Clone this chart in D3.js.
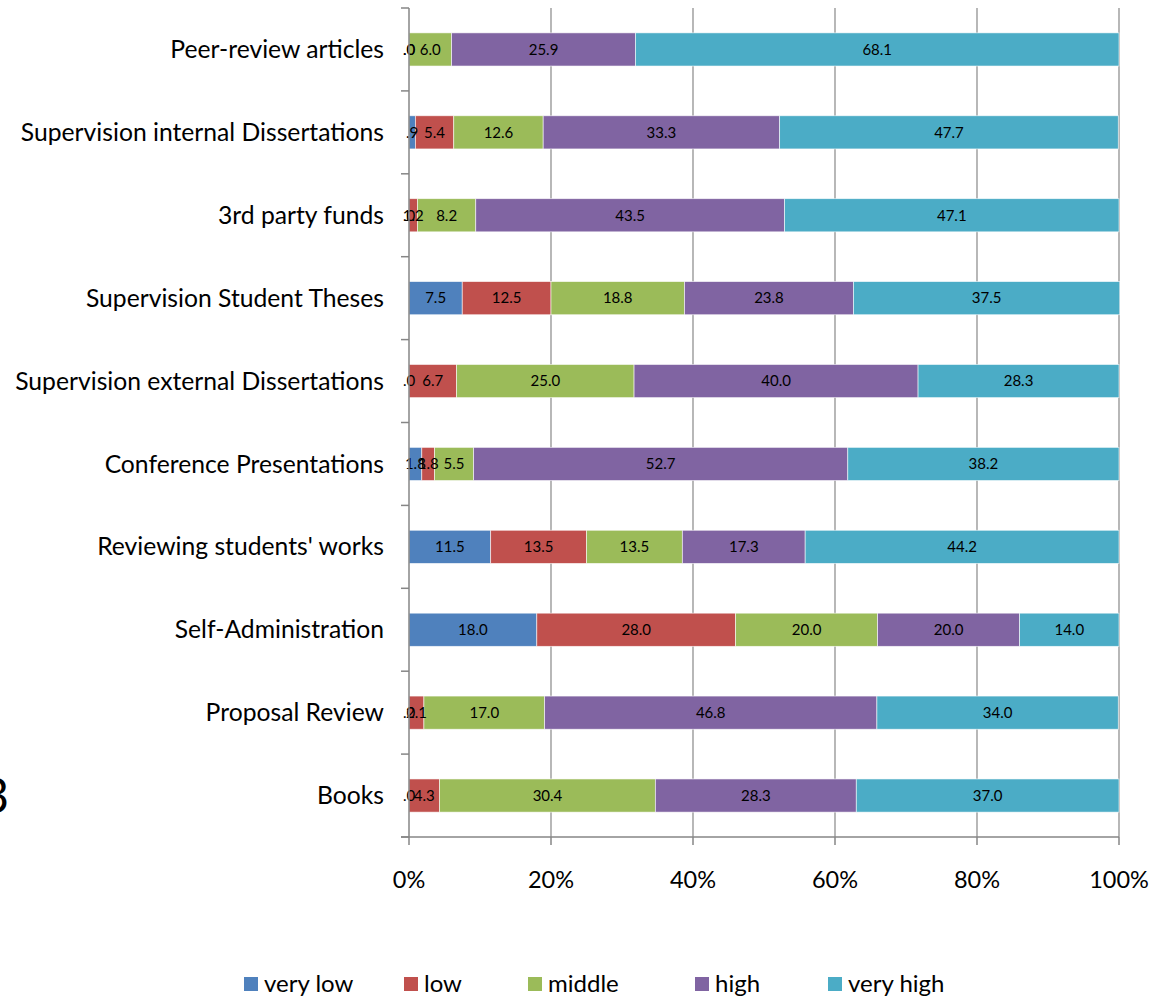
<!DOCTYPE html>
<html>
<head>
<meta charset="utf-8">
<script src="https://cdn.jsdelivr.net/npm/d3@7/dist/d3.min.js"></script>
<style>
  html, body { margin: 0; padding: 0; background: #fff; }
  svg { display: block; }
  text { font-family: Lato, "Open Sans", sans-serif; fill: #000; }
</style>
</head>
<body>
<svg id="chart" width="1153" height="998"></svg>
<script>
// Activities, listed top to bottom
const categories = [
  "Peer-review articles",
  "Supervision internal Dissertations",
  "3rd party funds",
  "Supervision Student Theses",
  "Supervision external Dissertations",
  "Conference Presentations",
  "Reviewing students' works",
  "Self-Administration",
  "Proposal Review",
  "Books"
];

// Share of answers (%) per rating, in category order
const veryLow  = [0.0, 0.9, 0.0, 7.5, 0.0, 1.8, 11.5, 18.0, 0.0, 0.0];
const low      = [0.0, 5.4, 1.2, 12.5, 6.7, 1.8, 13.5, 28.0, 2.1, 4.3];
const middle   = [6.0, 12.6, 8.2, 18.8, 25.0, 5.5, 13.5, 20.0, 17.0, 30.4];
const high     = [25.9, 33.3, 43.5, 23.8, 40.0, 52.7, 17.3, 20.0, 46.8, 28.3];
const veryHigh = [68.1, 47.7, 47.1, 37.5, 28.3, 38.2, 44.2, 14.0, 34.0, 37.0];

const seriesNames = ["very low", "low", "middle", "high", "very high"];
const seriesValues = [veryLow, low, middle, high, veryHigh];
const seriesColors = ["#4F81BD", "#C0504D", "#9BBB59", "#8064A2", "#4BACC6"];

const xTicks = [0, 20, 40, 60, 80, 100];
const xTickLabels = ["0%", "20%", "40%", "60%", "80%", "100%"];

const svg = d3.select("#chart");

const plot = { left: 409, right: 1119, top: 8, bottom: 837 };

const x = d3.scaleLinear().domain([0, 100]).range([plot.left, plot.right]);
const y = d3.scaleBand()
  .domain(categories)
  .range([plot.top, plot.bottom])
  .paddingInner(0.6)
  .paddingOuter(0.3);

const color = d3.scaleOrdinal().domain(seriesNames).range(seriesColors);

// Rows for the stack: one object per category
const rows = categories.map((c, i) => {
  const r = { category: c };
  seriesNames.forEach((s, j) => { r[s] = seriesValues[j][i]; });
  return r;
});
const stacked = d3.stack().keys(seriesNames)(rows);

// Vertical gridlines
svg.append("g")
  .selectAll("line")
  .data(xTicks.slice(1))
  .join("line")
  .attr("x1", d => x(d)).attr("x2", d => x(d))
  .attr("y1", plot.top).attr("y2", plot.bottom)
  .attr("stroke", "#888").attr("stroke-width", 1.2);

// Stacked bars
const layers = svg.append("g")
  .selectAll("g")
  .data(stacked)
  .join("g")
  .attr("fill", d => color(d.key));

layers.selectAll("rect")
  .data(d => d)
  .join("rect")
  .attr("x", d => x(d[0]))
  .attr("y", d => y(d.data.category))
  .attr("width", d => x(d[1]) - x(d[0]))
  .attr("height", y.bandwidth())
  .attr("stroke", "#fff")
  .attr("stroke-opacity", 0.7)
  .attr("stroke-width", 0.8);

// Value labels: one decimal, leading zero dropped
const fmt = v => {
  const s = d3.format(".1f")(v);
  return s.startsWith("0.") ? s.slice(1) : s;
};
stacked.forEach(layer => {
  svg.append("g")
    .selectAll("text")
    .data(layer)
    .join("text")
    .attr("x", d => (x(d[0]) + x(d[1])) / 2)
    .attr("y", d => y(d.data.category) + y.bandwidth() / 2)
    .attr("dy", "0.35em")
    .attr("text-anchor", "middle")
    .style("font-size", "15px")
    .text(d => fmt(d.data[layer.key]));
});

// Axes lines
const axisColor = "#868686";
svg.append("line")
  .attr("x1", plot.left).attr("x2", plot.left)
  .attr("y1", plot.top).attr("y2", plot.bottom)
  .attr("stroke", axisColor).attr("stroke-width", 1.5);
svg.append("line")
  .attr("x1", plot.left - 8).attr("x2", plot.right)
  .attr("y1", plot.bottom).attr("y2", plot.bottom)
  .attr("stroke", axisColor).attr("stroke-width", 1.5);

// Category separator ticks on the y axis
const boundaries = d3.range(categories.length + 1).map(i => plot.top + i * y.step());
svg.append("g")
  .selectAll("line")
  .data(boundaries)
  .join("line")
  .attr("x1", plot.left - 8).attr("x2", plot.left)
  .attr("y1", d => d).attr("y2", d => d)
  .attr("stroke", axisColor).attr("stroke-width", 1.5);

// X ticks and labels
svg.append("g")
  .selectAll("line")
  .data(xTicks)
  .join("line")
  .attr("x1", d => x(d)).attr("x2", d => x(d))
  .attr("y1", plot.bottom).attr("y2", plot.bottom + 8)
  .attr("stroke", axisColor).attr("stroke-width", 1.5);

svg.append("g")
  .selectAll("text")
  .data(xTicks)
  .join("text")
  .attr("x", d => x(d))
  .attr("y", 880)
  .attr("dy", "0.35em")
  .attr("text-anchor", "middle")
  .style("font-size", "23.5px")
  .text((d, i) => xTickLabels[i]);

// Category labels
svg.append("g")
  .selectAll("text")
  .data(categories)
  .join("text")
  .attr("x", 384)
  .attr("y", d => y(d) + y.bandwidth() / 2)
  .attr("dy", "0.35em")
  .attr("text-anchor", "end")
  .style("font-size", "24.7px")
  .text(d => d);

// Legend
const legendX = [244, 404, 528, 695, 828];
const legend = svg.append("g")
  .selectAll("g")
  .data(seriesNames)
  .join("g")
  .attr("transform", (d, i) => `translate(${legendX[i]},984)`);
legend.append("rect")
  .attr("x", 0).attr("y", -7)
  .attr("width", 14).attr("height", 14)
  .attr("fill", d => color(d));
legend.append("text")
  .attr("x", 20).attr("y", 0)
  .attr("dy", "0.35em")
  .style("font-size", "24px")
  .text(d => d);

// Edge of a figure number cut off at the left border
svg.append("text")
  .attr("x", 9).attr("y", 813)
  .attr("text-anchor", "end")
  .style("font-size", "48px")
  .text("3");
</script>
</body>
</html>
